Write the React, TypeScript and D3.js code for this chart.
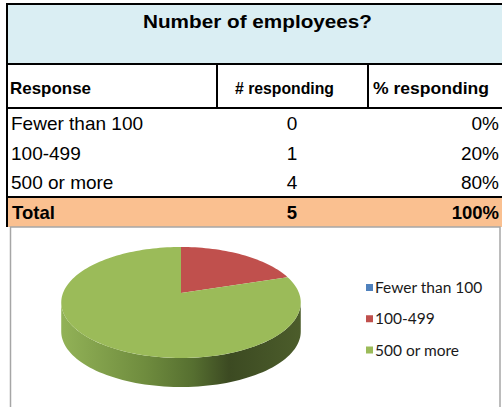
import React from "react";
import * as d3 from "d3";

const titleText = "Number of employees?";
const headers = ["Response", "# responding", "% responding"];
const categories = ["Fewer than 100", "100-499", "500 or more"];
const counts = [0, 1, 4];
const percents = ["0%", "20%", "80%"];
const totalLabel = "Total";
const totalCount = 5;
const totalPercent = "100%";
const colors = ["#4f81bd", "#c0504d", "#9bbb59"];

const W = 502;
const H = 407;
const FONT = "'Liberation Sans', Arial, sans-serif";
const LEGEND_FONT = "Lato, 'Open Sans', sans-serif";

// pie geometry (perspective ellipse)
const cx = 181;
const cy = 293;
const A = 53.9;
const B = 118;
const K = 0.171;
const DEPTH = 29;

function proj(theta: number, dy = 0): [number, number] {
  const u = Math.sin(theta);
  const v = Math.cos(theta);
  const s = 1 + K * v;
  return [cx + (B * u) / s, cy - (A * v) / s + dy];
}

function arcPoints(a0: number, a1: number, dy = 0): [number, number][] {
  const n = Math.max(2, Math.ceil(((a1 - a0) / (2 * Math.PI)) * 180));
  return d3.range(n + 1).map((i) => proj(a0 + ((a1 - a0) * i) / n, dy));
}

export default function App() {
  const rowY = d3.scaleBand<number>().domain([0, 1, 2]).range([108, 197]);
  const countX = d3.scaleLinear().domain([0, 1]).range([217, 368]);
  const colMid = (countX(0) + countX(1)) / 2;

  const pieGen = d3
    .pie<number>()
    .sort(null)
    .startAngle(0)
    .endAngle(2 * Math.PI);
  const arcs = pieGen(counts);

  const line = d3.line();

  const visL = Math.acos(-K);
  const visR = 2 * Math.PI - visL;

  const sidePaths = arcs
    .map((a, i) => {
      const s0 = Math.max(a.startAngle, visL);
      const s1 = Math.min(a.endAngle, visR);
      if (s1 <= s0) return null;
      const top = arcPoints(s0, s1, 0);
      const bottom = arcPoints(s0, s1, DEPTH).reverse();
      return { i, d: line([...top, ...bottom])! + "Z" };
    })
    .filter(Boolean) as { i: number; d: string }[];

  const topPaths = arcs
    .filter((a) => a.endAngle - a.startAngle > 0)
    .map((a) => {
      const pts = [[cx, cy] as [number, number], ...arcPoints(a.startAngle, a.endAngle)];
      return { i: a.index, d: line(pts)! + "Z" };
    });

  const legendY = d3.scalePoint<number>().domain([0, 1, 2]).range([287.5, 350]);

  return (
    <svg
      width={W}
      height={H}
      style={{ position: "absolute", left: 0, top: 0, background: "#fff" }}
    >
      <defs>
        <linearGradient id="sideGreen" gradientUnits="userSpaceOnUse" x1={61} x2={301} y1={0} y2={0}>
          <stop offset="0" stopColor="#92b257" />
          <stop offset="0.35" stopColor="#6f8c3e" />
          <stop offset="0.55" stopColor="#566f30" />
          <stop offset="0.7" stopColor="#3c4a22" />
          <stop offset="1" stopColor="#4c5d2b" />
        </linearGradient>
      </defs>

      {/* title row */}
      <rect x={7} y={4} width={W} height={60} fill="#daeef3" />
      <text
        x={257.5}
        y={28}
        textAnchor="middle"
        fontFamily={FONT}
        fontWeight="bold"
        fontSize={18}
        textLength={229}
        lengthAdjust="spacingAndGlyphs"
      >
        {titleText}
      </text>

      {/* total row */}
      <rect x={7} y={197} width={W} height={30} fill="#fac090" />

      {/* chart box */}
      <rect x={10.5} y={227} width={489.5} height={200} fill="none" stroke="#a6a6a6" strokeWidth={1.5} />

      {/* table lines */}
      <g stroke="#000" strokeWidth={2}>
        <line x1={6} x2={W} y1={4} y2={4} />
        <line x1={7} x2={7} y1={3} y2={227} />
        <line x1={6} x2={W} y1={64} y2={64} />
        <line x1={6} x2={W} y1={108} y2={108} />
        <line x1={6} x2={W} y1={197} y2={197} />
        <line x1={countX(0)} x2={countX(0)} y1={64} y2={108} />
        <line x1={countX(1)} x2={countX(1)} y1={64} y2={108} />
      </g>

      {/* headers */}
      <g fontFamily={FONT} fontWeight="bold" fontSize={17}>
        <text x={10} y={94} textLength={81} lengthAdjust="spacingAndGlyphs">
          {headers[0]}
        </text>
        <text x={235} y={94} textLength={99} lengthAdjust="spacingAndGlyphs">
          {headers[1]}
        </text>
        <text x={373} y={94} textLength={116} lengthAdjust="spacingAndGlyphs">
          {headers[2]}
        </text>
      </g>

      {/* data rows */}
      <g fontFamily={FONT} fontSize={19}>
        {categories.map((c, i) => {
          const base = rowY(i)! + rowY.bandwidth() / 2 + 7;
          return (
            <g key={c}>
              <text x={11} y={base}>
                {c}
              </text>
              <text x={colMid - 0.5} y={base} textAnchor="middle">
                {counts[i]}
              </text>
              <text x={499} y={base} textAnchor="end">
                {percents[i]}
              </text>
            </g>
          );
        })}
      </g>

      {/* total row text */}
      <g fontFamily={FONT} fontSize={18.5} fontWeight="bold">
        <text x={12} y={219}>
          {totalLabel}
        </text>
        <text x={colMid - 0.5} y={219} textAnchor="middle">
          {totalCount}
        </text>
        <text x={499} y={219} textAnchor="end">
          {totalPercent}
        </text>
      </g>

      {/* pie */}
      <g>
        {sidePaths.map((p) => (
          <path key={"s" + p.i} d={p.d} fill={p.i === 2 ? "url(#sideGreen)" : colors[p.i]} />
        ))}
        {topPaths.map((p) => (
          <path key={"t" + p.i} d={p.d} fill={colors[p.i]} />
        ))}
      </g>

      {/* legend */}
      <g fontFamily={LEGEND_FONT} fontSize={15.5} fill="#1a1a1a">
        {categories.map((c, i) => (
          <g key={c}>
            <rect x={366} y={legendY(i)! - 3.5} width={7} height={7} fill={colors[i]} />
            <text x={375} y={legendY(i)! + 5.5}>
              {c}
            </text>
          </g>
        ))}
      </g>
    </svg>
  );
}
